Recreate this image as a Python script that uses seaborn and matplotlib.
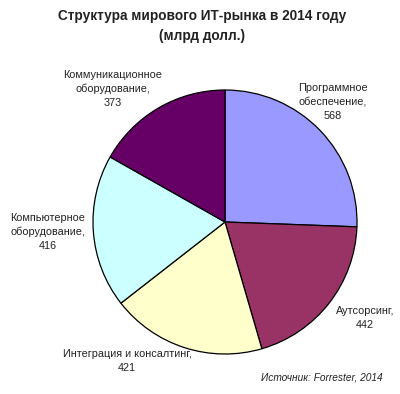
import matplotlib
matplotlib.use("Agg")
import matplotlib.pyplot as plt
import seaborn as sns

categories = ["Программное\nобеспечение,", "Аутсорсинг,", "Интеграция и консалтинг,",
              "Компьютерное\nоборудование,", "Коммуникационное\nоборудование,"]
values = [568, 442, 421, 416, 373]
colors = ["#9999FF", "#993366", "#FFFFCC", "#CCFFFF", "#660066"]

sns.set_theme(style="white")
plt.rcParams["font.family"] = ["Liberation Sans", "DejaVu Sans"]

W, H = 400, 394
fig = plt.figure(figsize=(W / 100, H / 100), dpi=100)
fig.patch.set_facecolor("white")

cx, cy, r = 225, 222, 132
ax = fig.add_axes([(cx - r) / W, (H - cy - r) / H, 2 * r / W, 2 * r / H])
ax.pie(values, colors=colors, startangle=90, counterclock=False, radius=1,
       wedgeprops=dict(edgecolor="black", linewidth=0.9))
ax.set_xlim(-1, 1)
ax.set_ylim(-1, 1)
ax.set_aspect("equal")
ax.axis("off")

label_pos = [(333, 102), (365, 318), (127, 361), (48, 232), (113, 89)]
for cat, v, (px, py) in zip(categories, values, label_pos):
    fig.text(px / W, 1 - py / H, f"{cat}\n{v}", ha="center", va="center",
             fontsize=7.8, color="#222222", linespacing=1.45)

fig.text(202 / W, 1 - 26 / H, "Структура мирового ИТ-рынка в 2014 году\n(млрд долл.)",
         ha="center", va="center", fontsize=9.8, fontweight="bold", color="#222222",
         linespacing=1.6)
fig.text(383 / W, 1 - 378 / H, "Источник: Forrester, 2014", ha="right", va="center",
         fontsize=7.3, style="italic", color="#222222")

fig.savefig("out.png", dpi=100)
